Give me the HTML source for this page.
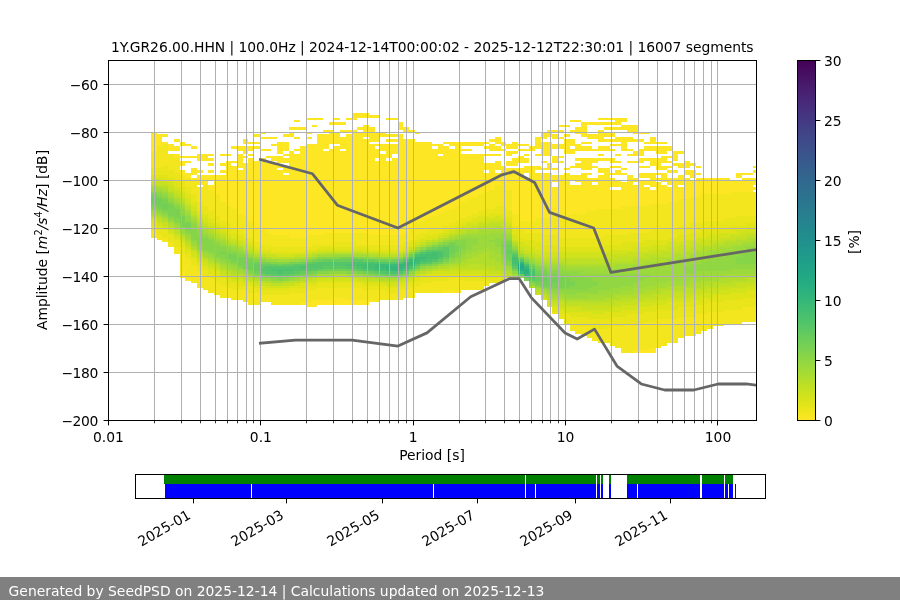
<!DOCTYPE html>
<html><head><meta charset="utf-8"><title>PPSD</title>
<style>html,body{margin:0;padding:0;background:#fff;width:900px;height:600px;overflow:hidden}svg{display:block}text{font-family:"DejaVu Sans","Liberation Sans",sans-serif;font-size:13.89px;fill:#000}</style>
</head><body>
<svg width="900" height="600" viewBox="0 0 900 600">
<defs><clipPath id="axclip"><rect x="108" y="60" width="648" height="360"/></clipPath></defs>
<rect width="900" height="600" fill="#fff"/>
<g shape-rendering="crispEdges"><path fill="#fde725" d="M151 132h6v19h-6zM157 134h5v12h-5zM162 142h6v2h-6zM162 134h6v3h-6zM168 144h6v7h-6zM174 146h6v5h-6zM174 139h6v3h-6zM174 154h6v4h-6zM180 161h5v5h-5zM180 142h5v4h-5zM180 170h5v5h-5zM180 271h5v7h-5zM185 278h6v3h-6zM185 144h6v2h-6zM185 161h6v2h-6zM185 173h6v5h-6zM180 156h17v2h-17zM191 168h6v7h-6zM191 146h6v3h-6zM191 178h6v2h-6zM197 170h6v3h-6zM197 175h6v7h-6zM197 154h11v7h-11zM203 175h5v10h-5zM208 158h6v3h-6zM208 175h6v5h-6zM208 185h6v5h-6zM208 170h6v3h-6zM208 154h6v2h-6zM208 163h6v3h-6zM214 175h6v19h-6zM220 170h6v3h-6zM220 163h6v3h-6zM220 175h6v27h-6zM220 154h11v2h-11zM226 161h5v45h-5zM231 166h6v43h-6zM231 161h6v2h-6zM231 146h6v3h-6zM237 154h6v14h-6zM237 146h6v5h-6zM237 170h6v44h-6zM243 146h5v8h-5zM243 139h5v5h-5zM243 156h5v2h-5zM243 163h5v53h-5zM248 154h6v2h-6zM248 146h6v5h-6zM248 158h6v63h-6zM248 142h12v2h-12zM254 161h6v67h-6zM254 134h6v3h-6zM254 146h6v3h-6zM260 132h6v2h-6zM260 158h6v72h-6zM260 149h11v2h-11zM266 163h5v70h-5zM266 156h5v2h-5zM260 137h17v2h-17zM271 163h6v72h-6zM271 156h6v5h-6zM271 144h6v2h-6zM277 170h6v65h-6zM277 142h6v12h-6zM277 166h6v2h-6zM277 156h6v7h-6zM283 166h6v7h-6zM283 142h6v9h-6zM283 154h6v2h-6zM283 158h6v5h-6zM283 175h6v60h-6zM283 134h6v3h-6zM289 132h5v5h-5zM289 151h5v87h-5zM294 149h6v2h-6zM294 120h6v2h-6zM294 137h6v2h-6zM294 154h6v84h-6zM289 127h17v3h-17zM300 302h6v3h-6zM300 146h6v92h-6zM306 302h6v5h-6zM306 132h6v2h-6zM306 137h6v2h-6zM306 144h11v91h-11zM312 300h5v7h-5zM312 125h5v2h-5zM306 118h17v2h-17zM317 134h6v101h-6zM323 134h6v15h-6zM323 130h6v2h-6zM323 151h6v82h-6zM317 300h17v5h-17zM329 149h5v84h-5zM329 130h5v14h-5zM334 118h6v2h-6zM334 132h6v12h-6zM334 146h6v87h-6zM329 122h17v3h-17zM334 298h12v7h-12zM340 137h6v12h-6zM340 151h6v82h-6zM340 130h12v2h-12zM346 118h6v2h-6zM346 134h6v99h-6zM352 130h5v103h-5zM352 113h5v7h-5zM357 127h6v3h-6zM357 132h6v101h-6zM346 300h23v5h-23zM357 113h12v5h-12zM363 139h6v94h-6zM363 125h6v12h-6zM369 127h6v15h-6zM369 300h6v2h-6zM369 144h6v91h-6zM369 115h11v3h-11zM375 132h5v10h-5zM375 149h5v9h-5zM375 161h5v74h-5zM375 144h5v2h-5zM380 132h6v5h-6zM380 154h6v81h-6zM380 144h6v7h-6zM386 161h6v74h-6zM386 144h6v14h-6zM386 118h12v2h-12zM386 139h12v3h-12zM386 134h12v3h-12zM392 158h6v77h-6zM392 144h6v10h-6zM398 134h5v101h-5zM398 122h5v8h-5zM403 139h6v94h-6zM403 127h6v5h-6zM409 130h6v2h-6zM409 139h6v89h-6zM415 132h5v2h-5zM415 142h5v81h-5zM420 142h6v79h-6zM426 142h6v76h-6zM432 149h6v67h-6zM432 144h6v2h-6zM438 144h5v10h-5zM438 156h5v58h-5zM443 146h6v65h-6zM443 142h6v2h-6zM449 142h6v4h-6zM449 149h6v60h-6zM443 290h18v3h-18zM455 142h6v64h-6zM461 154h5v48h-5zM461 149h11v2h-11zM466 154h6v45h-6zM472 154h6v43h-6zM461 142h23v4h-23zM478 154h6v40h-6zM484 173h5v19h-5zM484 163h5v7h-5zM484 142h5v2h-5zM484 146h5v3h-5zM489 139h6v3h-6zM489 163h6v27h-6zM489 144h6v7h-6zM484 154h17v2h-17zM495 137h6v7h-6zM495 161h6v9h-6zM495 146h6v5h-6zM495 173h6v12h-6zM501 142h5v4h-5zM501 166h5v16h-5zM501 149h5v2h-5zM506 161h6v5h-6zM506 144h6v5h-6zM506 151h6v5h-6zM506 168h6v22h-6zM512 158h6v8h-6zM512 151h6v3h-6zM512 142h6v7h-6zM512 168h6v46h-6zM518 168h6v53h-6zM518 156h6v7h-6zM518 149h11v2h-11zM518 144h11v2h-11zM524 166h5v7h-5zM524 178h5v43h-5zM524 154h5v2h-5zM524 158h5v5h-5zM529 146h6v5h-6zM529 166h6v55h-6zM535 137h6v12h-6zM535 154h6v2h-6zM535 166h6v4h-6zM541 132h6v7h-6zM541 161h6v2h-6zM541 168h6v2h-6zM535 173h17v45h-17zM541 142h11v14h-11zM547 163h5v7h-5zM547 130h5v7h-5zM552 134h6v5h-6zM552 175h6v7h-6zM552 187h6v29h-6zM552 168h6v2h-6zM552 156h6v7h-6zM552 144h12v5h-12zM552 130h12v2h-12zM558 175h6v41h-6zM558 161h6v2h-6zM558 156h6v2h-6zM558 137h6v2h-6zM558 125h12v2h-12zM564 139h6v15h-6zM564 173h6v43h-6zM564 134h6v3h-6zM564 168h6v2h-6zM570 175h5v5h-5zM570 139h5v7h-5zM570 130h5v2h-5zM570 166h5v2h-5zM570 149h5v5h-5zM570 185h11v29h-11zM570 120h11v2h-11zM575 158h6v3h-6zM575 127h6v7h-6zM575 175h6v7h-6zM575 144h6v7h-6zM575 163h6v5h-6zM581 173h6v41h-6zM581 122h6v15h-6zM581 158h11v12h-11zM581 146h11v5h-11zM581 142h11v2h-11zM587 178h5v33h-5zM587 173h5v2h-5zM587 134h11v5h-11zM592 149h6v2h-6zM592 178h6v4h-6zM592 158h6v5h-6zM592 166h6v2h-6zM592 185h6v26h-6zM598 154h6v2h-6zM598 175h6v34h-6zM598 130h6v12h-6zM598 168h6v5h-6zM598 158h12v3h-12zM598 146h12v5h-12zM604 168h6v41h-6zM587 122h28v3h-28zM598 118h17v2h-17zM604 132h11v5h-11zM604 139h11v3h-11zM610 173h5v2h-5zM610 149h5v2h-5zM610 158h5v5h-5zM610 178h5v9h-5zM604 127h17v3h-17zM610 190h11v19h-11zM610 144h11v2h-11zM610 166h11v2h-11zM615 118h6v7h-6zM615 180h6v7h-6zM615 154h6v2h-6zM615 137h6v5h-6zM615 161h6v2h-6zM615 170h6v5h-6zM621 125h6v5h-6zM621 173h6v2h-6zM621 137h6v14h-6zM621 118h6v4h-6zM621 182h6v24h-6zM621 168h6v2h-6zM627 175h6v31h-6zM627 154h6v2h-6zM627 137h6v5h-6zM627 149h6v2h-6zM627 125h6v7h-6zM627 161h11v2h-11zM633 151h5v5h-5zM633 125h5v9h-5zM633 178h5v4h-5zM633 185h5v21h-5zM633 139h11v3h-11zM638 149h6v7h-6zM638 158h6v5h-6zM638 180h6v26h-6zM633 350h17v3h-17zM638 132h12v2h-12zM638 173h12v5h-12zM638 166h12v2h-12zM644 158h6v3h-6zM644 187h6v19h-6zM644 142h6v2h-6zM644 180h6v5h-6zM644 146h12v5h-12zM650 137h6v7h-6zM650 173h6v14h-6zM650 158h6v8h-6zM650 348h6v5h-6zM650 190h6v14h-6zM656 158h5v12h-5zM656 173h5v2h-5zM656 182h5v22h-5zM656 178h5v2h-5zM656 146h11v8h-11zM656 142h11v2h-11zM661 185h6v19h-6zM661 166h6v4h-6zM661 156h6v7h-6zM661 173h6v9h-6zM667 178h6v7h-6zM667 146h6v5h-6zM667 187h6v15h-6zM667 161h6v2h-6zM667 156h6v2h-6zM667 166h6v2h-6zM667 170h11v3h-11zM673 151h5v10h-5zM673 163h5v3h-5zM673 178h5v24h-5zM678 175h6v10h-6zM678 151h6v3h-6zM678 163h6v5h-6zM678 187h6v12h-6zM684 178h6v21h-6zM684 161h6v7h-6zM684 170h6v5h-6zM690 163h6v3h-6zM690 170h6v8h-6zM690 180h6v17h-6zM696 173h5v2h-5zM696 166h5v2h-5zM696 178h5v19h-5zM701 178h29v16h-29zM730 180h12v12h-12zM736 173h6v5h-6zM742 173h11v2h-11zM742 178h11v14h-11zM753 178h3v7h-3zM753 170h3v3h-3zM753 187h3v3h-3zM753 166h3v2h-3z"/><path fill="#f4e61e" d="M151 151h6v17h-6zM151 230h6v8h-6zM157 235h5v5h-5zM157 146h5v22h-5zM162 238h6v4h-6zM162 144h6v22h-6zM168 154h6v16h-6zM168 242h6v5h-6zM174 247h6v7h-6zM174 158h6v15h-6zM180 175h5v5h-5zM180 254h5v17h-5zM185 259h6v19h-6zM185 178h6v9h-6zM191 266h6v17h-6zM191 180h6v14h-6zM197 187h6v15h-6zM197 182h6v3h-6zM197 271h6v17h-6zM203 276h5v14h-5zM203 185h5v21h-5zM208 190h6v21h-6zM208 278h6v15h-6zM214 283h6v12h-6zM214 194h6v22h-6zM220 286h6v12h-6zM220 202h6v19h-6zM226 288h5v10h-5zM226 206h5v17h-5zM231 209h6v19h-6zM231 290h12v10h-12zM237 214h6v16h-6zM243 216h5v17h-5zM243 290h5v12h-5zM248 221h6v17h-6zM248 293h12v12h-12zM254 228h6v14h-6zM260 230h6v15h-6zM260 295h11v7h-11zM266 233h5v12h-5zM271 235h18v12h-18zM271 295h18v10h-18zM289 293h11v12h-11zM289 238h17v9h-17zM300 293h6v9h-6zM306 235h6v12h-6zM306 290h6v12h-6zM312 290h5v10h-5zM312 235h11v10h-11zM317 288h17v12h-17zM323 233h11v12h-11zM334 288h12v10h-12zM334 233h23v9h-23zM346 288h17v12h-17zM357 233h12v12h-12zM363 290h12v10h-12zM375 290h5v12h-5zM380 290h6v10h-6zM386 293h12v7h-12zM369 235h34v10h-34zM398 290h5v10h-5zM403 290h6v8h-6zM403 233h6v9h-6zM409 288h6v10h-6zM409 228h6v12h-6zM415 223h5v12h-5zM415 286h5v7h-5zM420 221h6v12h-6zM420 283h12v10h-12zM426 218h6v12h-6zM432 216h6v14h-6zM432 281h11v12h-11zM438 214h5v14h-5zM443 281h6v9h-6zM443 211h6v15h-6zM449 209h6v14h-6zM449 278h12v12h-12zM455 206h6v15h-6zM461 202h5v16h-5zM466 199h6v17h-6zM472 197h6v17h-6zM461 281h23v9h-23zM478 194h6v17h-6zM484 281h5v5h-5zM484 192h5v17h-5zM489 190h6v19h-6zM495 185h6v21h-6zM501 182h5v24h-5zM506 190h6v21h-6zM512 214h6v12h-6zM518 221h6v9h-6zM524 221h11v12h-11zM535 218h6v15h-6zM541 218h11v17h-11zM552 216h6v19h-6zM558 216h12v22h-12zM570 324h5v7h-5zM575 326h6v8h-6zM570 214h17v24h-17zM581 326h6v10h-6zM587 326h5v12h-5zM587 211h11v27h-11zM592 329h6v12h-6zM598 209h6v29h-6zM598 329h12v14h-12zM610 326h5v20h-5zM604 209h17v26h-17zM615 326h6v22h-6zM621 326h6v27h-6zM621 206h6v29h-6zM627 324h6v29h-6zM633 324h11v26h-11zM627 206h23v27h-23zM644 322h6v28h-6zM650 322h6v26h-6zM656 319h5v29h-5zM650 204h17v26h-17zM661 319h6v27h-6zM667 319h11v24h-11zM667 202h11v26h-11zM678 317h6v21h-6zM678 199h12v27h-12zM684 317h12v19h-12zM690 197h11v26h-11zM696 314h5v20h-5zM701 314h6v17h-6zM707 312h6v17h-6zM701 194h23v27h-23zM713 312h11v14h-11zM724 194h6v24h-6zM730 192h6v26h-6zM724 310h18v14h-18zM736 192h20v24h-20zM742 307h14v15h-14z"/><path fill="#eae51a" d="M151 226h6v4h-6zM151 168h11v7h-11zM157 228h5v7h-5zM162 230h6v8h-6zM162 166h6v9h-6zM168 235h6v7h-6zM168 170h6v8h-6zM174 173h6v9h-6zM174 240h6v7h-6zM180 180h5v7h-5zM180 247h5v7h-5zM185 187h6v7h-6zM185 254h6v5h-6zM191 259h6v7h-6zM191 194h6v8h-6zM197 202h6v9h-6zM197 266h6v5h-6zM203 206h5v8h-5zM203 269h5v7h-5zM208 274h6v4h-6zM208 211h6v7h-6zM214 276h6v7h-6zM214 216h6v7h-6zM220 278h6v8h-6zM220 221h6v5h-6zM226 283h5v5h-5zM226 223h5v7h-5zM231 228h6v5h-6zM231 283h6v7h-6zM237 230h6v5h-6zM237 286h11v4h-11zM243 233h5v5h-5zM248 238h6v4h-6zM248 286h6v7h-6zM254 288h6v5h-6zM254 242h6v5h-6zM260 245h11v5h-11zM260 290h29v5h-29zM271 247h35v5h-35zM289 288h17v5h-17zM306 247h6v3h-6zM306 286h11v4h-11zM312 245h5v5h-5zM317 245h17v2h-17zM334 242h23v5h-23zM317 283h46v5h-46zM357 245h12v2h-12zM363 286h23v4h-23zM386 288h12v5h-12zM369 245h34v5h-34zM398 286h11v4h-11zM403 242h6v5h-6zM409 283h6v5h-6zM409 240h6v2h-6zM415 235h5v5h-5zM415 281h5v5h-5zM420 233h6v5h-6zM420 278h12v5h-12zM426 230h12v5h-12zM438 228h5v5h-5zM432 276h17v5h-17zM443 226h6v4h-6zM449 223h6v5h-6zM449 276h12v2h-12zM455 221h6v5h-6zM461 218h5v5h-5zM466 216h6v5h-6zM461 276h17v5h-17zM472 214h6v4h-6zM478 211h6v5h-6zM478 278h11v3h-11zM484 209h5v7h-5zM489 209h6v5h-6zM489 278h12v5h-12zM495 206h11v8h-11zM506 211h6v7h-6zM512 226h6v4h-6zM518 230h6v8h-6zM524 233h11v7h-11zM535 233h6v9h-6zM541 235h17v10h-17zM552 312h6v2h-6zM558 314h6v5h-6zM564 314h6v10h-6zM570 317h5v7h-5zM575 317h12v9h-12zM587 319h5v7h-5zM558 238h46v9h-46zM592 319h18v10h-18zM604 235h17v10h-17zM610 317h17v9h-17zM621 235h6v7h-6zM627 233h17v9h-17zM627 314h17v10h-17zM644 233h6v7h-6zM644 312h12v10h-12zM650 230h17v10h-17zM656 310h22v9h-22zM667 228h11v10h-11zM678 226h12v9h-12zM678 307h18v10h-18zM690 223h11v10h-11zM696 305h11v9h-11zM701 221h18v9h-18zM707 302h17v10h-17zM719 221h5v7h-5zM724 218h6v10h-6zM730 218h6v8h-6zM724 300h18v10h-18zM736 216h11v10h-11zM742 298h14v9h-14zM747 216h9v7h-9z"/><path fill="#dfe318" d="M151 221h6v5h-6zM151 175h11v3h-11zM157 226h5v2h-5zM162 175h6v5h-6zM162 228h6v2h-6zM168 178h6v4h-6zM168 233h6v2h-6zM174 182h6v5h-6zM174 238h6v2h-6zM180 187h5v5h-5zM180 242h5v5h-5zM185 250h6v4h-6zM185 194h6v5h-6zM191 202h6v4h-6zM191 257h6v2h-6zM197 262h6v4h-6zM197 211h6v3h-6zM203 266h5v3h-5zM203 214h5v4h-5zM208 269h6v5h-6zM208 218h6v5h-6zM214 271h6v5h-6zM214 223h6v3h-6zM220 276h6v2h-6zM220 226h6v4h-6zM226 230h5v5h-5zM226 278h5v5h-5zM231 233h6v5h-6zM231 281h6v2h-6zM237 281h6v5h-6zM237 235h6v5h-6zM243 238h5v4h-5zM243 283h11v3h-11zM248 242h6v3h-6zM254 286h6v2h-6zM254 247h6v3h-6zM260 286h6v4h-6zM260 250h11v2h-11zM266 288h23v2h-23zM289 286h11v2h-11zM271 252h35v2h-35zM300 283h6v5h-6zM306 283h11v3h-11zM306 250h11v2h-11zM317 281h46v2h-46zM317 247h52v3h-52zM363 283h23v3h-23zM386 286h12v2h-12zM369 250h34v2h-34zM398 283h11v3h-11zM403 247h6v3h-6zM409 242h6v5h-6zM409 281h6v2h-6zM415 240h5v2h-5zM415 278h5v3h-5zM420 276h6v2h-6zM420 238h6v2h-6zM426 274h6v4h-6zM426 235h6v5h-6zM432 235h6v3h-6zM438 233h5v2h-5zM443 230h6v3h-6zM449 228h6v2h-6zM455 226h6v2h-6zM461 223h5v3h-5zM466 221h6v2h-6zM432 274h46v2h-46zM472 218h6v5h-6zM478 274h6v4h-6zM478 216h6v5h-6zM484 216h5v2h-5zM489 214h6v4h-6zM484 276h17v2h-17zM495 214h6v2h-6zM501 278h5v3h-5zM501 214h5v4h-5zM506 218h6v5h-6zM512 230h6v5h-6zM518 238h6v4h-6zM524 240h5v5h-5zM529 240h6v7h-6zM535 242h6v8h-6zM547 305h5v2h-5zM541 245h17v7h-17zM552 307h6v5h-6zM558 310h6v4h-6zM564 312h6v2h-6zM570 312h17v5h-17zM587 312h5v7h-5zM558 247h46v5h-46zM592 314h12v5h-12zM604 245h6v7h-6zM604 312h6v7h-6zM610 312h11v5h-11zM610 245h11v5h-11zM621 310h6v7h-6zM621 242h12v8h-12zM627 310h11v4h-11zM633 242h11v5h-11zM638 307h6v7h-6zM644 240h6v7h-6zM644 307h6v5h-6zM650 305h6v7h-6zM650 240h17v5h-17zM656 305h11v5h-11zM667 302h11v8h-11zM667 238h11v4h-11zM678 235h6v7h-6zM678 302h12v5h-12zM684 235h6v5h-6zM690 300h6v7h-6zM690 233h6v7h-6zM696 233h5v5h-5zM696 300h5v5h-5zM701 230h6v8h-6zM701 298h6v7h-6zM707 298h6v4h-6zM707 230h12v5h-12zM713 295h11v7h-11zM719 228h11v5h-11zM724 295h6v5h-6zM730 226h6v7h-6zM730 293h12v7h-12zM736 226h11v4h-11zM742 293h5v5h-5zM747 290h9v8h-9zM747 223h9v5h-9z"/><path fill="#d2e21b" d="M151 218h6v3h-6zM151 178h11v4h-11zM157 223h5v3h-5zM162 180h6v2h-6zM162 226h6v2h-6zM168 182h6v3h-6zM168 230h6v3h-6zM174 187h6v3h-6zM174 235h6v3h-6zM180 192h5v5h-5zM180 240h5v2h-5zM185 199h6v5h-6zM185 247h6v3h-6zM191 252h6v5h-6zM191 206h6v5h-6zM197 214h6v4h-6zM197 259h6v3h-6zM203 262h5v4h-5zM203 218h5v5h-5zM208 223h6v3h-6zM208 266h6v3h-6zM214 269h6v2h-6zM214 226h6v4h-6zM220 274h6v2h-6zM220 230h6v3h-6zM226 276h5v2h-5zM226 235h5v3h-5zM231 238h6v2h-6zM231 278h12v3h-12zM237 240h6v2h-6zM243 242h5v3h-5zM243 281h11v2h-11zM248 245h6v2h-6zM254 283h6v3h-6zM254 250h6v2h-6zM260 252h11v2h-11zM266 286h23v2h-23zM277 254h17v3h-17zM294 283h6v3h-6zM306 252h6v2h-6zM306 281h11v2h-11zM317 278h40v3h-40zM317 250h52v2h-52zM363 281h17v2h-17zM380 252h18v2h-18zM386 283h12v3h-12zM398 281h11v2h-11zM403 250h6v2h-6zM409 278h6v3h-6zM415 242h5v3h-5zM415 276h5v2h-5zM420 274h6v2h-6zM420 240h6v2h-6zM432 238h6v2h-6zM438 235h5v3h-5zM443 233h6v2h-6zM449 230h6v3h-6zM455 228h6v2h-6zM461 226h5v2h-5zM466 223h6v5h-6zM472 223h6v3h-6zM432 271h52v3h-52zM478 221h6v2h-6zM484 271h5v5h-5zM484 218h5v5h-5zM489 218h6v3h-6zM489 274h12v2h-12zM495 216h6v5h-6zM501 218h5v3h-5zM501 276h11v2h-11zM506 223h6v3h-6zM512 235h6v5h-6zM518 242h6v5h-6zM524 245h5v5h-5zM529 247h6v5h-6zM535 250h6v4h-6zM541 298h6v2h-6zM547 300h5v5h-5zM552 305h6v2h-6zM558 307h6v3h-6zM564 307h17v5h-17zM581 310h11v2h-11zM541 252h63v5h-63zM592 310h12v4h-12zM604 310h6v2h-6zM604 252h6v2h-6zM610 307h11v5h-11zM610 250h17v4h-17zM627 250h6v2h-6zM621 305h17v5h-17zM633 247h17v5h-17zM638 302h12v5h-12zM650 302h6v3h-6zM650 245h17v5h-17zM656 300h11v5h-11zM667 242h11v5h-11zM678 242h6v3h-6zM667 298h23v4h-23zM684 240h6v5h-6zM690 240h6v2h-6zM690 295h11v5h-11zM696 238h5v4h-5zM701 238h6v2h-6zM701 293h12v5h-12zM707 235h12v5h-12zM713 293h6v2h-6zM719 233h11v5h-11zM719 290h11v5h-11zM730 233h6v2h-6zM736 230h6v5h-6zM730 288h17v5h-17zM742 230h5v3h-5zM747 228h9v5h-9zM747 286h9v4h-9z"/><path fill="#c8e020" d="M157 221h5v2h-5zM151 182h17v3h-17zM162 223h6v3h-6zM168 228h6v2h-6zM168 185h6v5h-6zM174 233h6v2h-6zM174 190h6v4h-6zM180 197h5v2h-5zM180 238h5v2h-5zM185 245h6v2h-6zM185 204h6v2h-6zM191 250h6v2h-6zM191 211h6v3h-6zM197 218h6v3h-6zM197 257h6v2h-6zM203 259h5v3h-5zM203 223h5v3h-5zM208 264h6v2h-6zM208 226h6v2h-6zM214 230h6v3h-6zM214 266h6v3h-6zM220 233h6v2h-6zM220 271h6v3h-6zM226 274h5v2h-5zM226 238h5v2h-5zM231 240h6v2h-6zM231 276h12v2h-12zM237 242h6v3h-6zM243 245h5v2h-5zM243 278h5v3h-5zM248 247h6v3h-6zM254 281h6v2h-6zM254 252h6v2h-6zM260 283h11v3h-11zM266 254h11v3h-11zM283 283h11v3h-11zM294 254h12v3h-12zM300 281h6v2h-6zM312 278h5v3h-5zM312 252h11v2h-11zM334 276h12v2h-12zM357 278h12v3h-12zM363 252h17v2h-17zM380 281h18v2h-18zM398 252h5v2h-5zM403 278h6v3h-6zM409 276h6v2h-6zM409 247h6v3h-6zM415 274h5v2h-5zM415 245h5v2h-5zM420 242h6v3h-6zM426 271h6v3h-6zM426 240h6v2h-6zM443 235h6v3h-6zM449 233h6v2h-6zM455 230h6v3h-6zM461 228h5v2h-5zM472 226h6v2h-6zM438 269h51v2h-51zM478 223h11v3h-11zM489 271h12v3h-12zM489 221h12v2h-12zM501 274h5v2h-5zM501 221h5v5h-5zM506 226h6v2h-6zM512 240h6v2h-6zM518 247h6v3h-6zM524 250h5v4h-5zM529 252h6v2h-6zM535 254h6v3h-6zM535 293h6v2h-6zM541 295h6v3h-6zM552 302h6v3h-6zM558 302h6v5h-6zM564 305h17v2h-17zM541 257h63v2h-63zM581 305h29v5h-29zM604 254h11v5h-11zM610 305h5v2h-5zM615 302h6v5h-6zM615 254h12v3h-12zM621 302h12v3h-12zM633 300h5v5h-5zM627 252h17v5h-17zM638 300h6v2h-6zM644 252h6v2h-6zM644 298h12v4h-12zM650 250h11v4h-11zM656 295h11v5h-11zM661 250h6v2h-6zM667 295h6v3h-6zM667 247h11v5h-11zM673 293h17v5h-17zM678 245h12v5h-12zM690 242h6v5h-6zM690 293h6v2h-6zM696 242h5v3h-5zM696 290h5v5h-5zM701 290h6v3h-6zM701 240h12v5h-12zM707 288h12v5h-12zM713 240h6v2h-6zM719 238h5v4h-5zM719 286h11v4h-11zM724 238h6v2h-6zM730 235h6v5h-6zM730 286h6v2h-6zM736 235h6v3h-6zM736 283h11v5h-11zM742 233h5v5h-5zM747 233h9v2h-9zM747 283h9v3h-9z"/><path fill="#bddf26" d="M151 216h6v2h-6zM157 218h5v3h-5zM157 185h11v2h-11zM162 221h6v2h-6zM168 190h6v2h-6zM168 226h6v2h-6zM174 194h6v3h-6zM174 230h6v3h-6zM180 235h5v3h-5zM180 199h5v3h-5zM185 206h6v3h-6zM185 242h6v3h-6zM191 214h6v2h-6zM197 221h6v2h-6zM197 254h6v3h-6zM203 226h5v2h-5zM208 228h6v2h-6zM208 262h6v2h-6zM214 233h6v2h-6zM214 264h6v2h-6zM220 235h6v3h-6zM220 269h6v2h-6zM226 271h5v3h-5zM226 240h5v2h-5zM231 242h6v3h-6zM231 274h12v2h-12zM237 245h6v2h-6zM243 276h5v2h-5zM243 247h5v3h-5zM248 278h6v3h-6zM248 250h6v2h-6zM260 281h6v2h-6zM260 254h6v3h-6zM271 283h12v3h-12zM271 257h23v2h-23zM289 281h11v2h-11zM306 278h6v3h-6zM306 254h6v3h-6zM317 276h17v2h-17zM323 252h40v2h-40zM346 276h17v2h-17zM369 278h11v3h-11zM380 254h18v3h-18zM398 278h5v3h-5zM403 252h6v2h-6zM420 271h6v3h-6zM432 240h6v2h-6zM432 269h6v2h-6zM438 238h5v2h-5zM455 233h6v2h-6zM449 266h17v3h-17zM461 230h5v3h-5zM466 228h12v2h-12zM466 264h18v5h-18zM478 226h11v2h-11zM484 266h5v3h-5zM489 266h6v5h-6zM489 223h6v5h-6zM495 223h6v3h-6zM495 269h6v2h-6zM501 271h5v3h-5zM501 226h5v2h-5zM506 274h6v2h-6zM506 228h6v2h-6zM512 276h6v2h-6zM518 250h6v2h-6zM529 254h6v3h-6zM535 290h6v3h-6zM535 257h6v2h-6zM547 298h5v2h-5zM541 259h23v3h-23zM552 300h12v2h-12zM564 259h40v5h-40zM564 302h46v3h-46zM604 259h11v3h-11zM610 300h5v5h-5zM615 300h6v2h-6zM615 257h18v5h-18zM621 298h12v4h-12zM633 298h5v2h-5zM633 257h11v2h-11zM638 295h6v5h-6zM644 254h6v5h-6zM644 295h6v3h-6zM650 293h6v5h-6zM650 254h11v3h-11zM656 293h5v2h-5zM661 290h12v5h-12zM661 252h12v5h-12zM673 252h5v2h-5zM673 290h11v3h-11zM678 250h6v4h-6zM684 250h6v2h-6zM684 288h12v5h-12zM690 247h6v5h-6zM696 288h5v2h-5zM696 245h5v5h-5zM701 286h6v4h-6zM701 245h12v2h-12zM707 286h6v2h-6zM713 283h6v5h-6zM713 242h11v3h-11zM719 283h11v3h-11zM724 240h12v2h-12zM730 281h6v5h-6zM736 238h11v2h-11zM736 281h11v2h-11zM747 235h9v3h-9zM747 278h9v5h-9z"/><path fill="#b2dd2d" d="M151 185h6v2h-6zM151 214h6v2h-6zM157 216h5v2h-5zM162 187h6v3h-6zM162 218h6v3h-6zM168 192h6v2h-6zM168 223h6v3h-6zM174 197h6v2h-6zM174 228h6v2h-6zM180 202h5v2h-5zM185 209h6v2h-6zM185 240h6v2h-6zM191 247h6v3h-6zM191 216h6v2h-6zM197 252h6v2h-6zM197 223h6v3h-6zM203 257h5v2h-5zM203 228h5v2h-5zM208 259h6v3h-6zM208 230h6v3h-6zM214 262h6v2h-6zM214 235h6v3h-6zM220 238h6v2h-6zM220 266h6v3h-6zM226 269h5v2h-5zM226 242h5v3h-5zM231 271h6v3h-6zM243 274h5v2h-5zM248 252h6v2h-6zM248 276h6v2h-6zM254 254h6v3h-6zM254 278h6v3h-6zM266 257h5v2h-5zM266 281h5v2h-5zM283 281h6v2h-6zM294 257h12v2h-12zM300 278h6v3h-6zM312 254h5v3h-5zM312 276h5v2h-5zM334 274h12v2h-12zM363 276h6v2h-6zM369 254h11v3h-11zM380 278h18v3h-18zM398 254h5v3h-5zM409 250h6v2h-6zM415 271h5v3h-5zM420 245h6v2h-6zM426 269h6v2h-6zM426 242h6v3h-6zM438 240h5v2h-5zM438 266h11v3h-11zM443 238h6v2h-6zM449 235h6v3h-6zM449 264h12v2h-12zM461 262h5v4h-5zM461 233h5v2h-5zM466 259h6v5h-6zM466 230h12v3h-12zM472 257h6v7h-6zM478 254h6v10h-6zM484 252h5v14h-5zM478 228h17v2h-17zM489 259h6v7h-6zM495 226h6v4h-6zM495 262h6v7h-6zM501 266h5v5h-5zM501 228h5v2h-5zM506 271h6v3h-6zM506 230h6v3h-6zM512 242h6v3h-6zM518 252h6v2h-6zM524 254h5v3h-5zM529 257h6v2h-6zM529 286h6v2h-6zM535 259h6v3h-6zM541 293h6v2h-6zM547 295h5v3h-5zM541 262h23v2h-23zM552 298h12v2h-12zM564 300h40v2h-40zM564 264h40v2h-40zM604 298h6v4h-6zM604 262h11v4h-11zM610 298h5v2h-5zM615 295h6v5h-6zM615 262h18v2h-18zM621 295h12v3h-12zM633 293h5v5h-5zM633 259h11v5h-11zM638 293h6v2h-6zM644 259h6v3h-6zM644 290h6v5h-6zM650 290h6v3h-6zM656 288h5v5h-5zM650 257h17v5h-17zM661 288h6v2h-6zM667 257h6v2h-6zM673 254h5v5h-5zM667 286h17v4h-17zM678 254h6v3h-6zM684 252h6v5h-6zM684 286h6v2h-6zM690 252h6v2h-6zM690 283h11v5h-11zM696 250h5v2h-5zM701 247h6v5h-6zM701 281h12v5h-12zM707 247h6v3h-6zM713 245h6v5h-6zM713 281h6v2h-6zM719 245h5v2h-5zM719 278h11v5h-11zM724 242h6v5h-6zM730 242h6v3h-6zM730 278h12v3h-12zM736 240h6v5h-6zM742 276h5v5h-5zM742 240h5v2h-5zM747 238h6v4h-6zM747 276h9v2h-9zM753 238h3v2h-3z"/><path fill="#a5db36" d="M151 211h6v3h-6zM151 187h11v3h-11zM157 214h5v2h-5zM162 190h6v2h-6zM168 221h6v2h-6zM168 194h6v3h-6zM174 199h6v3h-6zM174 226h6v2h-6zM180 233h5v2h-5zM180 204h5v2h-5zM185 211h6v3h-6zM185 238h6v2h-6zM191 218h6v3h-6zM191 245h6v2h-6zM197 250h6v2h-6zM197 226h6v2h-6zM203 254h5v3h-5zM203 230h5v3h-5zM208 233h6v2h-6zM208 257h6v2h-6zM214 238h6v2h-6zM220 264h6v2h-6zM220 240h6v2h-6zM226 266h5v3h-5zM231 269h6v2h-6zM231 245h6v2h-6zM237 271h6v3h-6zM237 247h6v3h-6zM243 250h5v2h-5zM260 257h6v2h-6zM271 281h12v2h-12zM277 259h12v3h-12zM294 278h6v3h-6zM306 276h6v2h-6zM306 257h6v2h-6zM317 274h17v2h-17zM317 254h17v3h-17zM346 274h11v2h-11zM352 254h17v3h-17zM369 276h6v2h-6zM403 276h6v2h-6zM409 274h6v2h-6zM415 247h5v3h-5zM420 269h6v2h-6zM432 242h6v3h-6zM432 266h6v3h-6zM443 264h6v2h-6zM449 238h6v2h-6zM455 262h6v2h-6zM455 235h6v3h-6zM461 259h5v3h-5zM466 254h6v5h-6zM466 233h12v2h-12zM472 252h6v5h-6zM478 250h6v4h-6zM478 230h11v5h-11zM484 247h5v5h-5zM489 250h6v9h-6zM495 254h6v8h-6zM489 230h17v3h-17zM501 264h5v2h-5zM506 269h6v2h-6zM506 233h6v2h-6zM512 245h6v2h-6zM512 274h6v2h-6zM535 262h6v2h-6zM535 288h6v2h-6zM541 290h6v3h-6zM547 293h5v2h-5zM541 264h23v2h-23zM552 295h12v3h-12zM564 298h23v2h-23zM564 266h34v3h-34zM587 295h17v5h-17zM598 266h6v5h-6zM604 295h6v3h-6zM604 266h11v3h-11zM610 293h5v5h-5zM615 293h6v2h-6zM615 264h18v5h-18zM621 290h12v5h-12zM633 288h11v5h-11zM633 264h11v2h-11zM644 286h12v4h-12zM644 262h23v4h-23zM656 283h11v5h-11zM667 259h11v5h-11zM678 257h6v5h-6zM667 281h23v5h-23zM684 257h6v2h-6zM690 254h6v5h-6zM690 278h11v5h-11zM696 252h11v5h-11zM701 278h6v3h-6zM707 250h6v4h-6zM707 276h12v5h-12zM713 250h6v2h-6zM719 247h5v5h-5zM719 276h5v2h-5zM724 247h6v3h-6zM730 245h6v5h-6zM724 274h18v4h-18zM736 245h6v2h-6zM742 242h11v3h-11zM742 274h14v2h-14zM753 240h3v2h-3z"/><path fill="#9bd93c" d="M151 190h11v2h-11zM162 216h6v2h-6zM162 192h6v2h-6zM168 197h6v2h-6zM174 223h6v3h-6zM174 202h6v2h-6zM180 230h5v3h-5zM180 206h5v3h-5zM185 214h6v2h-6zM185 235h6v3h-6zM191 221h6v2h-6zM191 242h6v3h-6zM197 228h6v2h-6zM203 252h5v2h-5zM203 233h5v2h-5zM208 235h6v3h-6zM208 254h6v3h-6zM214 240h6v2h-6zM214 259h6v3h-6zM220 242h6v3h-6zM220 262h6v2h-6zM226 264h5v2h-5zM226 245h5v2h-5zM231 266h6v3h-6zM231 247h6v3h-6zM237 269h6v2h-6zM237 250h6v2h-6zM243 252h5v2h-5zM243 271h5v3h-5zM248 274h6v2h-6zM248 254h6v3h-6zM254 276h6v2h-6zM254 257h6v2h-6zM260 278h11v3h-11zM266 259h11v3h-11zM289 278h5v3h-5zM289 259h11v3h-11zM300 276h6v2h-6zM312 257h5v2h-5zM334 254h18v3h-18zM357 274h6v2h-6zM375 276h11v2h-11zM380 257h18v2h-18zM398 276h5v2h-5zM403 254h6v3h-6zM426 266h6v3h-6zM426 245h6v2h-6zM438 264h5v2h-5zM443 240h6v2h-6zM449 262h6v2h-6zM455 238h6v2h-6zM455 259h6v3h-6zM461 254h5v5h-5zM466 250h6v4h-6zM461 235h17v3h-17zM472 245h6v7h-6zM478 235h6v15h-6zM484 235h5v12h-5zM489 233h6v7h-6zM489 242h6v8h-6zM495 233h6v5h-6zM495 247h6v7h-6zM501 259h5v5h-5zM501 233h5v2h-5zM506 266h6v3h-6zM506 235h6v3h-6zM518 254h6v3h-6zM524 257h5v2h-5zM529 259h6v3h-6zM535 264h6v2h-6zM547 290h5v3h-5zM547 266h17v3h-17zM552 293h12v2h-12zM564 295h11v3h-11zM564 269h17v2h-17zM575 293h12v5h-12zM581 269h17v5h-17zM587 293h11v2h-11zM598 271h6v3h-6zM598 290h12v5h-12zM610 288h11v5h-11zM604 269h29v5h-29zM621 286h12v4h-12zM633 283h5v5h-5zM638 281h6v7h-6zM633 266h17v8h-17zM644 278h6v8h-6zM650 266h6v20h-6zM656 266h11v17h-11zM667 264h11v17h-11zM678 262h6v19h-6zM684 274h6v7h-6zM684 259h6v7h-6zM690 259h6v5h-6zM690 274h6v4h-6zM696 257h5v7h-5zM696 271h11v7h-11zM701 257h6v5h-6zM707 254h6v5h-6zM707 271h17v5h-17zM713 252h11v5h-11zM724 250h6v4h-6zM724 271h6v3h-6zM730 250h6v2h-6zM736 247h6v3h-6zM742 245h5v5h-5zM747 245h6v2h-6zM730 269h26v5h-26zM753 242h3v5h-3z"/><path fill="#90d743" d="M151 209h6v2h-6zM157 211h5v3h-5zM157 192h5v2h-5zM162 194h6v3h-6zM162 214h6v2h-6zM168 218h6v3h-6zM168 199h6v3h-6zM174 204h6v2h-6zM180 209h5v5h-5zM180 228h5v2h-5zM185 233h6v2h-6zM185 216h6v5h-6zM191 223h6v5h-6zM191 240h6v2h-6zM197 245h6v5h-6zM197 230h6v5h-6zM203 250h5v2h-5zM203 235h5v3h-5zM208 238h6v2h-6zM208 252h6v2h-6zM214 257h6v2h-6zM214 242h6v3h-6zM220 259h6v3h-6zM220 245h6v2h-6zM226 247h5v3h-5zM226 262h5v2h-5zM231 250h6v2h-6zM231 264h6v2h-6zM237 252h6v2h-6zM243 269h5v2h-5zM260 259h6v3h-6zM271 278h6v3h-6zM283 278h6v3h-6zM294 276h6v2h-6zM300 259h6v3h-6zM312 274h5v2h-5zM329 271h17v3h-17zM363 274h6v2h-6zM369 257h11v2h-11zM386 276h12v2h-12zM398 257h5v2h-5zM409 252h6v2h-6zM409 271h6v3h-6zM415 269h5v2h-5zM415 250h5v2h-5zM420 247h6v3h-6zM420 266h6v3h-6zM438 242h5v3h-5zM443 262h6v2h-6zM449 259h6v3h-6zM449 240h6v2h-6zM455 257h6v2h-6zM461 238h5v2h-5zM461 250h5v4h-5zM466 238h6v12h-6zM472 238h6v7h-6zM489 240h6v2h-6zM495 238h6v9h-6zM501 254h5v5h-5zM501 235h5v5h-5zM506 238h6v2h-6zM512 247h6v3h-6zM512 271h6v3h-6zM518 276h6v2h-6zM529 283h6v3h-6zM529 262h6v2h-6zM535 286h6v2h-6zM541 266h6v3h-6zM541 288h6v2h-6zM547 269h11v2h-11zM552 290h12v3h-12zM558 269h6v5h-6zM564 271h6v3h-6zM564 290h11v5h-11zM570 271h11v5h-11zM575 290h12v3h-12zM581 274h6v2h-6zM587 274h5v4h-5zM587 288h5v5h-5zM592 274h6v7h-6zM592 286h6v7h-6zM598 274h12v16h-12zM610 274h11v14h-11zM621 274h12v12h-12zM633 274h5v9h-5zM638 274h6v7h-6zM644 274h6v4h-6zM684 266h6v8h-6zM690 264h6v10h-6zM696 264h5v7h-5zM701 262h6v9h-6zM707 259h6v12h-6zM713 257h11v14h-11zM724 254h6v17h-6zM730 252h6v17h-6zM736 250h6v7h-6zM742 250h5v4h-5zM747 247h6v5h-6zM736 264h20v5h-20zM753 247h3v3h-3z"/><path fill="#86d549" d="M151 206h6v3h-6zM151 192h6v2h-6zM157 209h5v2h-5zM157 194h5v3h-5zM162 197h6v2h-6zM162 211h6v3h-6zM168 216h6v2h-6zM168 202h6v2h-6zM174 206h6v3h-6zM174 218h6v5h-6zM180 214h5v2h-5zM180 226h5v2h-5zM185 230h6v3h-6zM185 221h6v2h-6zM191 228h6v12h-6zM197 235h6v10h-6zM203 238h5v12h-5zM208 240h6v12h-6zM214 245h6v12h-6zM220 247h6v5h-6zM220 254h6v5h-6zM226 259h5v3h-5zM226 250h5v4h-5zM231 252h6v2h-6zM231 262h6v2h-6zM237 266h6v3h-6zM237 254h11v3h-11zM248 271h6v3h-6zM248 257h6v2h-6zM254 259h6v3h-6zM254 274h6v2h-6zM260 276h6v2h-6zM277 278h6v3h-6zM271 262h18v2h-18zM289 276h5v2h-5zM306 259h6v3h-6zM306 274h6v2h-6zM317 271h12v3h-12zM317 257h23v2h-23zM346 271h11v3h-11zM357 257h12v2h-12zM369 274h6v2h-6zM403 274h6v2h-6zM432 245h6v2h-6zM432 264h6v2h-6zM443 242h6v3h-6zM449 257h6v2h-6zM455 240h6v5h-6zM455 252h6v5h-6zM461 240h5v10h-5zM501 240h5v5h-5zM501 247h5v7h-5zM506 240h6v2h-6zM506 262h6v4h-6zM524 259h5v3h-5zM535 266h6v3h-6zM541 269h6v2h-6zM547 271h11v3h-11zM558 274h6v2h-6zM547 288h23v2h-23zM564 274h6v4h-6zM570 276h5v5h-5zM570 286h5v4h-5zM575 276h12v14h-12zM587 278h5v10h-5zM592 281h6v5h-6zM736 257h6v7h-6zM742 254h5v10h-5zM747 252h6v12h-6zM753 250h3v14h-3z"/><path fill="#7ad151" d="M151 204h6v2h-6zM151 194h6v3h-6zM157 206h5v3h-5zM157 197h5v2h-5zM162 199h6v5h-6zM162 209h6v2h-6zM168 204h6v12h-6zM174 209h6v9h-6zM180 216h5v10h-5zM185 223h6v7h-6zM220 252h6v2h-6zM226 254h5v5h-5zM231 254h6v8h-6zM237 257h6v9h-6zM243 257h5v5h-5zM243 264h5v5h-5zM248 269h6v2h-6zM248 259h6v3h-6zM260 262h11v2h-11zM266 276h11v2h-11zM283 276h6v2h-6zM289 262h11v2h-11zM300 274h6v2h-6zM312 271h5v3h-5zM312 259h5v3h-5zM340 257h17v2h-17zM357 271h6v3h-6zM375 274h5v2h-5zM386 259h6v3h-6zM398 274h5v2h-5zM426 264h6v2h-6zM426 247h6v3h-6zM438 245h5v2h-5zM438 262h5v2h-5zM443 259h6v3h-6zM449 242h6v3h-6zM449 254h6v3h-6zM455 245h6v7h-6zM501 245h5v2h-5zM506 242h6v3h-6zM506 259h6v3h-6zM512 269h6v2h-6zM512 250h6v2h-6zM518 257h6v2h-6zM524 278h5v3h-5zM529 264h6v2h-6zM529 281h6v2h-6zM535 283h6v3h-6zM535 269h6v2h-6zM541 271h6v3h-6zM541 286h11v2h-11zM547 274h5v2h-5zM552 283h6v5h-6zM552 274h6v4h-6zM558 276h6v12h-6zM564 278h6v10h-6zM570 281h5v5h-5z"/><path fill="#70cf57" d="M151 197h6v7h-6zM157 199h5v7h-5zM162 204h6v5h-6zM243 262h5v2h-5zM248 262h6v7h-6zM254 262h6v2h-6zM254 271h6v3h-6zM260 274h6v2h-6zM277 264h6v2h-6zM277 276h6v2h-6zM294 274h6v2h-6zM300 262h6v2h-6zM306 271h6v3h-6zM317 259h6v3h-6zM323 269h29v2h-29zM363 271h6v3h-6zM375 259h11v3h-11zM380 274h6v2h-6zM392 259h6v3h-6zM403 257h6v2h-6zM409 254h6v3h-6zM415 266h5v3h-5zM420 250h6v2h-6zM420 264h6v2h-6zM432 247h6v3h-6zM432 262h6v2h-6zM443 245h6v2h-6zM449 245h6v9h-6zM506 254h6v5h-6zM506 245h6v5h-6zM535 281h6v2h-6zM535 271h6v3h-6zM541 281h6v5h-6zM541 274h6v4h-6zM547 276h5v10h-5zM552 278h6v5h-6z"/><path fill="#67cc5c" d="M254 264h6v7h-6zM266 274h5v2h-5zM260 264h17v2h-17zM283 264h11v2h-11zM289 274h5v2h-5zM300 271h6v3h-6zM306 262h6v2h-6zM317 269h6v2h-6zM323 259h29v3h-29zM352 269h5v2h-5zM363 259h12v3h-12zM369 271h6v3h-6zM386 274h12v2h-12zM398 259h5v3h-5zM403 271h6v3h-6zM409 269h6v2h-6zM415 252h5v2h-5zM438 259h5v3h-5zM438 247h5v3h-5zM443 257h6v2h-6zM506 250h6v4h-6zM512 252h6v2h-6zM518 274h6v2h-6zM524 262h5v2h-5zM529 266h6v3h-6zM535 274h6v7h-6zM541 278h6v3h-6z"/><path fill="#5cc863" d="M260 271h6v3h-6zM260 266h6v3h-6zM271 274h18v2h-18zM294 271h6v3h-6zM294 264h12v2h-12zM306 269h11v2h-11zM312 262h5v2h-5zM323 266h23v3h-23zM352 259h11v3h-11zM357 269h6v2h-6zM375 271h5v3h-5zM426 250h6v2h-6zM426 262h6v2h-6zM443 247h6v10h-6zM512 266h6v3h-6zM529 278h6v3h-6z"/><path fill="#54c568" d="M260 269h6v2h-6zM266 266h5v8h-5zM271 271h6v3h-6zM271 266h23v3h-23zM283 271h11v3h-11zM294 266h6v5h-6zM300 269h6v2h-6zM306 264h11v5h-11zM317 262h6v7h-6zM323 262h23v4h-23zM346 262h6v2h-6zM346 266h11v3h-11zM363 269h6v2h-6zM380 271h6v3h-6zM380 262h18v2h-18zM398 271h5v3h-5zM403 259h6v3h-6zM409 257h6v2h-6zM415 264h5v2h-5zM420 252h6v2h-6zM420 262h6v2h-6zM432 259h6v3h-6zM432 250h11v2h-11zM438 257h5v2h-5zM512 254h6v3h-6zM518 259h6v3h-6zM524 276h5v2h-5zM529 269h6v2h-6z"/><path fill="#4cc26c" d="M271 269h6v2h-6zM277 269h6v5h-6zM283 269h11v2h-11zM300 266h6v3h-6zM346 264h6v2h-6zM352 262h5v4h-5zM357 266h6v3h-6zM369 269h6v2h-6zM357 262h23v2h-23zM386 271h12v3h-12zM398 262h5v2h-5zM403 269h6v2h-6zM409 266h6v3h-6zM415 254h5v3h-5zM426 252h6v2h-6zM426 259h6v3h-6zM438 252h5v5h-5zM512 264h6v2h-6zM524 264h5v2h-5zM529 271h6v7h-6z"/><path fill="#44bf70" d="M357 264h6v2h-6zM363 264h12v5h-12zM375 269h11v2h-11zM415 262h5v2h-5zM420 259h6v3h-6zM420 254h6v3h-6zM426 254h6v5h-6zM432 252h6v7h-6zM512 257h6v7h-6z"/><path fill="#3bbb75" d="M375 264h11v5h-11zM386 269h6v2h-6zM386 264h12v2h-12zM398 269h5v2h-5zM403 262h6v2h-6zM403 266h6v3h-6zM409 259h6v3h-6zM409 264h6v2h-6zM415 257h5v5h-5zM420 257h6v2h-6zM518 271h6v3h-6z"/><path fill="#35b779" d="M386 266h6v3h-6zM392 266h6v5h-6zM398 264h5v5h-5zM403 264h6v2h-6zM409 262h6v2h-6zM518 262h6v2h-6zM524 274h5v2h-5zM524 266h5v3h-5z"/><path fill="#2ab07f" d="M518 269h6v2h-6zM524 269h5v5h-5z"/><path fill="#25ac82" d="M518 264h6v2h-6z"/><path fill="#22a884" d="M518 266h6v3h-6z"/></g>
<path d="M108.5 60V420M154.5 60V420M181.5 60V420M200.5 60V420M215.5 60V420M227.5 60V420M237.5 60V420M246.5 60V420M253.5 60V420M260.5 60V420M306.5 60V420M333.5 60V420M352.5 60V420M367.5 60V420M379.5 60V420M389.5 60V420M398.5 60V420M406.5 60V420M413.5 60V420M459.5 60V420M485.5 60V420M504.5 60V420M519.5 60V420M531.5 60V420M542.5 60V420M550.5 60V420M558.5 60V420M565.5 60V420M611.5 60V420M638.5 60V420M657.5 60V420M672.5 60V420M684.5 60V420M694.5 60V420M703.5 60V420M711.5 60V420M717.5 60V420M108 420.5H756M108 372.5H756M108 324.5H756M108 276.5H756M108 228.5H756M108 180.5H756M108 132.5H756M108 84.5H756" stroke="#b0b0b0" stroke-width="1" fill="none" shape-rendering="crispEdges"/>
<g clip-path="url(#axclip)" fill="none" stroke="#666666" stroke-width="2.78" stroke-linejoin="round" stroke-linecap="square"><path d="M260.37 159.60L312.54 173.77L337.34 205.20L397.97 228.00L501.08 175.19L513.72 171.59L534.53 182.40L549.51 212.39L593.68 228.01L610.97 272.39L801.27 242.41"/><path d="M260.37 343.20L295.48 340.08L352.10 340.07L397.97 346.08L426.97 332.87L470.67 296.75L509.26 278.64L519.24 278.63L531.30 297.60L565.10 333.00L577.17 338.99L594.53 329.11L616.98 366.01L641.24 383.99L664.63 390.00L693.87 390.00L718.13 384.00L746.05 383.97L796.08 389.98"/></g>
<path d="M108.5 420.5v4.9M260.5 420.5v4.9M413.5 420.5v4.9M565.5 420.5v4.9M717.5 420.5v4.9M108.5 420.5h-4.9M108.5 372.5h-4.9M108.5 324.5h-4.9M108.5 276.5h-4.9M108.5 228.5h-4.9M108.5 180.5h-4.9M108.5 132.5h-4.9M108.5 84.5h-4.9" stroke="#000" stroke-width="1" fill="none"/><path d="M154.5 420.5v2.8M181.5 420.5v2.8M200.5 420.5v2.8M215.5 420.5v2.8M227.5 420.5v2.8M237.5 420.5v2.8M246.5 420.5v2.8M253.5 420.5v2.8M306.5 420.5v2.8M333.5 420.5v2.8M352.5 420.5v2.8M367.5 420.5v2.8M379.5 420.5v2.8M389.5 420.5v2.8M398.5 420.5v2.8M406.5 420.5v2.8M459.5 420.5v2.8M485.5 420.5v2.8M504.5 420.5v2.8M519.5 420.5v2.8M531.5 420.5v2.8M542.5 420.5v2.8M550.5 420.5v2.8M558.5 420.5v2.8M611.5 420.5v2.8M638.5 420.5v2.8M657.5 420.5v2.8M672.5 420.5v2.8M684.5 420.5v2.8M694.5 420.5v2.8M703.5 420.5v2.8M711.5 420.5v2.8" stroke="#000" stroke-width="0.8" fill="none"/><rect x="108.5" y="60.5" width="648" height="360" fill="none" stroke="#000" stroke-width="1" shape-rendering="crispEdges"/><text x="108.5" y="441.5" text-anchor="middle">0.01</text><text x="260.9" y="441.5" text-anchor="middle">0.1</text><text x="413.2" y="441.5" text-anchor="middle">1</text><text x="565.6" y="441.5" text-anchor="middle">10</text><text x="718.0" y="441.5" text-anchor="middle">100</text><text x="97.9" y="425.6" text-anchor="end" letter-spacing="-0.4">−200</text><text x="97.9" y="377.6" text-anchor="end" letter-spacing="-0.4">−180</text><text x="97.9" y="329.6" text-anchor="end" letter-spacing="-0.4">−160</text><text x="97.9" y="281.6" text-anchor="end" letter-spacing="-0.4">−140</text><text x="97.9" y="233.6" text-anchor="end" letter-spacing="-0.4">−120</text><text x="97.9" y="185.6" text-anchor="end" letter-spacing="-0.4">−100</text><text x="97.9" y="137.6" text-anchor="end" letter-spacing="-0.4">−80</text><text x="97.9" y="89.6" text-anchor="end" letter-spacing="-0.4">−60</text><text x="432" y="459.7" text-anchor="middle">Period [s]</text><text x="432.3" y="51.8" text-anchor="middle" letter-spacing="-0.04">1Y.GR26.00.HHN | 100.0Hz | 2024-12-14T00:00:02 - 2025-12-12T22:30:01 | 16007 segments</text><text transform="translate(46.8,240) rotate(-90)" text-anchor="middle">Amplitude [<tspan font-style="italic">m</tspan><tspan font-size="9.72" dy="-5.3">2</tspan><tspan font-style="italic" dy="5.3">/s</tspan><tspan font-size="9.72" dy="-5.3">4</tspan><tspan font-style="italic" dy="5.3">/Hz</tspan>] [dB]</text>
<linearGradient id="cbg" x1="0" y1="0" x2="0" y2="1"><stop offset="0.0000" stop-color="#440154"/><stop offset="0.0333" stop-color="#470d60"/><stop offset="0.0667" stop-color="#481a6c"/><stop offset="0.1000" stop-color="#482475"/><stop offset="0.1333" stop-color="#472f7d"/><stop offset="0.1667" stop-color="#443983"/><stop offset="0.2000" stop-color="#414487"/><stop offset="0.2333" stop-color="#3d4d8a"/><stop offset="0.2667" stop-color="#39568c"/><stop offset="0.3000" stop-color="#355f8d"/><stop offset="0.3333" stop-color="#31688e"/><stop offset="0.3667" stop-color="#2d708e"/><stop offset="0.4000" stop-color="#2a788e"/><stop offset="0.4333" stop-color="#27808e"/><stop offset="0.4667" stop-color="#23888e"/><stop offset="0.5000" stop-color="#21908d"/><stop offset="0.5333" stop-color="#1f988b"/><stop offset="0.5667" stop-color="#1fa188"/><stop offset="0.6000" stop-color="#22a884"/><stop offset="0.6333" stop-color="#2ab07f"/><stop offset="0.6667" stop-color="#35b779"/><stop offset="0.7000" stop-color="#44bf70"/><stop offset="0.7333" stop-color="#54c568"/><stop offset="0.7667" stop-color="#67cc5c"/><stop offset="0.8000" stop-color="#7ad151"/><stop offset="0.8333" stop-color="#90d743"/><stop offset="0.8667" stop-color="#a5db36"/><stop offset="0.9000" stop-color="#bddf26"/><stop offset="0.9333" stop-color="#d2e21b"/><stop offset="0.9667" stop-color="#eae51a"/><stop offset="1.0000" stop-color="#fde725"/></linearGradient><rect x="797.5" y="60.5" width="18" height="360" fill="url(#cbg)" stroke="#000" stroke-width="1" shape-rendering="crispEdges"/><text x="824" y="425.6">0</text><text x="824" y="365.6">5</text><text x="824" y="305.6">10</text><text x="824" y="245.6">15</text><text x="824" y="185.6">20</text><text x="824" y="125.6">25</text><text x="824" y="65.6">30</text><path d="M815.5 420.5h4.9M815.5 360.5h4.9M815.5 300.5h4.9M815.5 240.5h4.9M815.5 180.5h4.9M815.5 120.5h4.9M815.5 60.5h4.9" stroke="#000" stroke-width="1" fill="none"/><text transform="translate(859.2,242) rotate(-90)" text-anchor="middle">[%]</text>
<rect x="164" y="474.5" width="569" height="9.5" fill="#008000"/><rect x="165" y="484" width="568" height="14.5" fill="#0000ff"/><rect x="735" y="484" width="1" height="14.5" fill="#0000ff"/><rect x="251" y="484" width="1" height="14.5" fill="#fff"/><rect x="433" y="484" width="1" height="14.5" fill="#fff"/><rect x="525" y="475" width="1" height="23" fill="#fff"/><rect x="535" y="484" width="1" height="14.5" fill="#fff"/><rect x="596" y="475" width="1" height="23" fill="#fff"/><rect x="600" y="475" width="1" height="23" fill="#fff"/><rect x="603" y="475" width="6" height="23" fill="#fff"/><rect x="611" y="475" width="16" height="23" fill="#fff"/><rect x="637" y="484" width="1" height="14.5" fill="#fff"/><rect x="700" y="475" width="2" height="23" fill="#fff"/><rect x="724" y="475" width="1" height="23" fill="#fff"/><rect x="728" y="484" width="1" height="14.5" fill="#fff"/><rect x="135.5" y="474.5" width="630" height="24" fill="none" stroke="#000" stroke-width="1" shape-rendering="crispEdges"/><text transform="translate(191.7,517.8) rotate(-30)" text-anchor="end">2025-01</text><text transform="translate(284.7,517.8) rotate(-30)" text-anchor="end">2025-03</text><text transform="translate(380.7,517.8) rotate(-30)" text-anchor="end">2025-05</text><text transform="translate(475.7,517.8) rotate(-30)" text-anchor="end">2025-07</text><text transform="translate(573.7,517.8) rotate(-30)" text-anchor="end">2025-09</text><text transform="translate(668.7,517.8) rotate(-30)" text-anchor="end">2025-11</text><path d="M193.5 498.5v4.9M286.5 498.5v4.9M382.5 498.5v4.9M477.5 498.5v4.9M575.5 498.5v4.9M670.5 498.5v4.9" stroke="#000" stroke-width="1" fill="none"/>
<rect x="0" y="577" width="900" height="23" fill="#808080"/><text x="8.6" y="595.6" style="fill:#fff">Generated by SeedPSD on 2025-12-14 | Calculations updated on 2025-12-13</text>
</svg>
</body></html>
